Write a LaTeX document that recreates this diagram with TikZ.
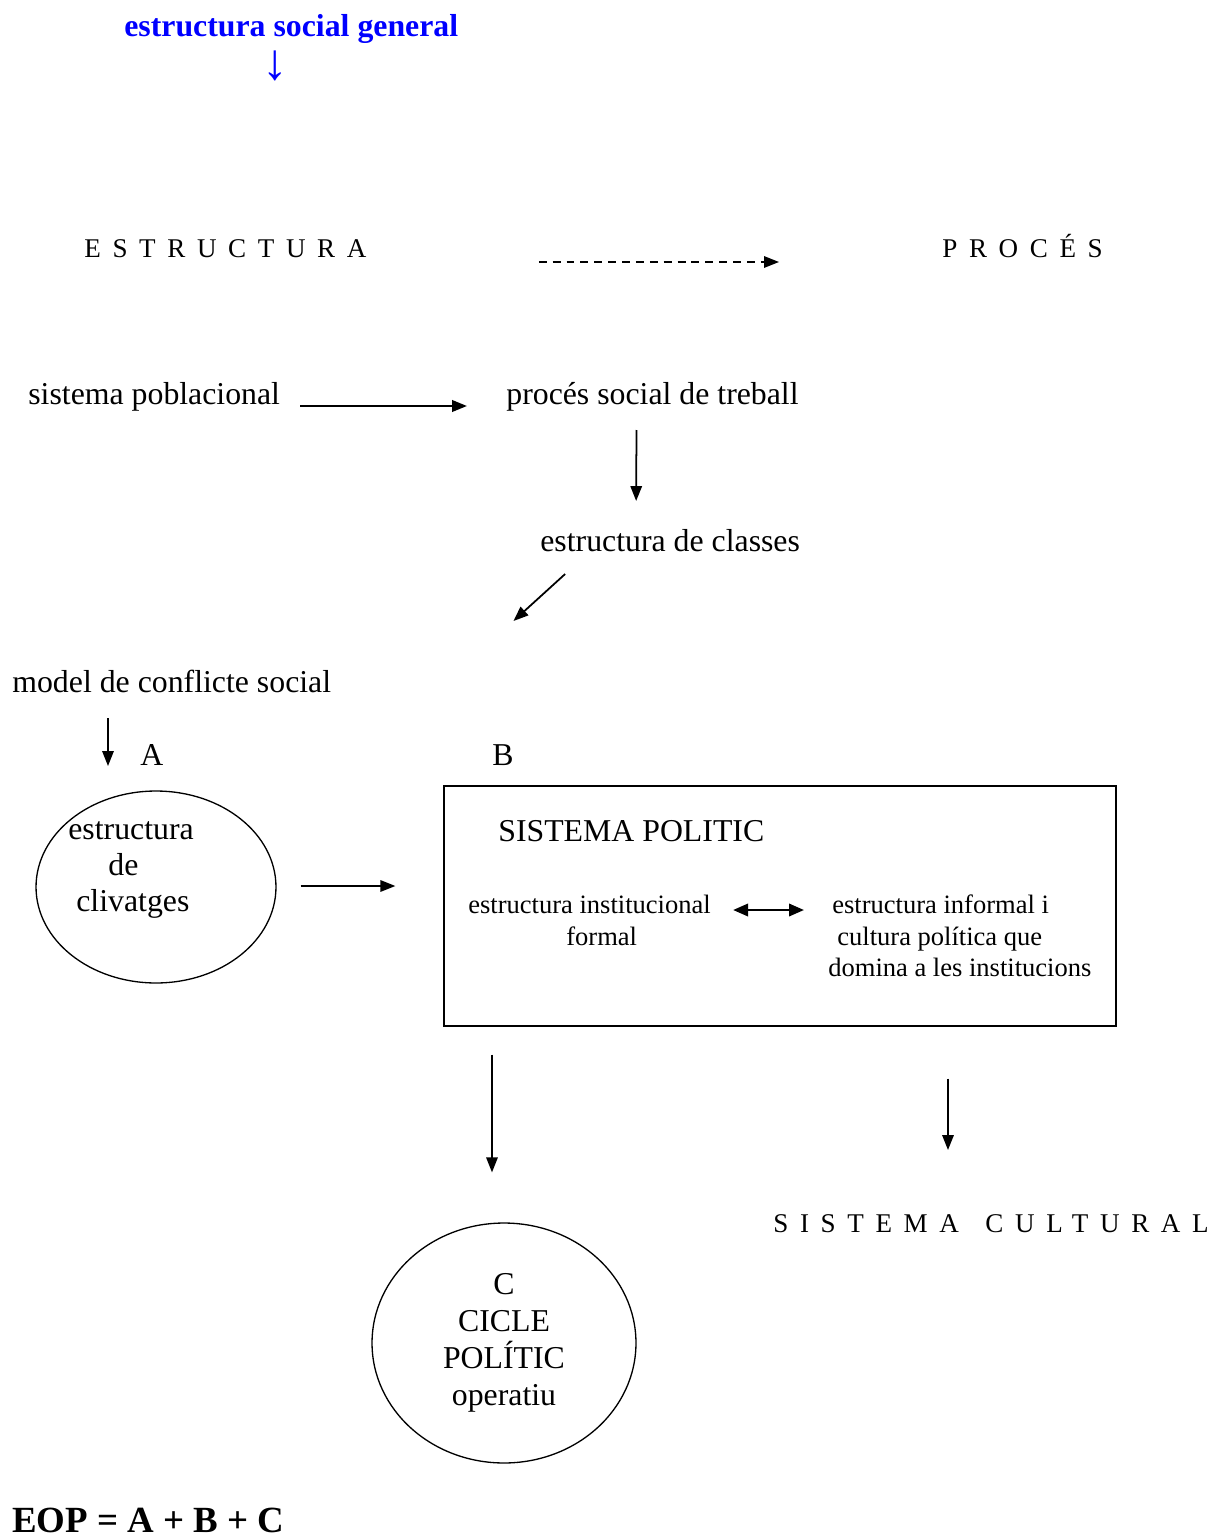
\documentclass[tikz,border=0pt]{standalone}
\usepackage{fontspec}
\setmainfont{Liberation Serif}
\newfontfamily\spacedfont[LetterSpace=43]{Liberation Serif}
\usetikzlibrary{arrows.meta, shapes.geometric}
\tikzstyle{txt} = [anchor=base west, inner sep=0pt, font=\fontsize{18.1}{21}\selectfont]
\tikzstyle{small} = [anchor=base west, inner sep=0pt, font=\fontsize{15.1}{18}\selectfont]
\tikzstyle{spaced} = [anchor=base west, inner sep=0pt, font=\spacedfont\fontsize{15.4}{18}\selectfont]
\tikzstyle{oval} = [ellipse, draw, line width=0.75pt]
\tikzstyle{reg} = [-{Triangle[length=8.5pt,width=6.5pt]}, line width=1pt]

\begin{document}
\begin{tikzpicture}[x=0.02cm, y=-0.02cm]
  \useasboundingbox (0,0) rectangle (1210,1537);

  % capçalera
  \node[txt, font=\bfseries\fontsize{18.1}{21}\selectfont, text=blue] (tit) at (124,37) {estructura social general};
  \node[txt, anchor=base, text=blue, font=\fontsize{29}{30}\selectfont] (fl) at (275,80) {↓};

  % estructura / procés
  \node[spaced] (estr) at (84,258) {ESTRUCTURA};
  \node[spaced] (proc) at (942,258) {PROCÉS};
  \draw[reg, dash pattern=on 4.5pt off 3.4pt] ([shift={(172,4)}]estr.base east) -- ([shift={(-163,4)}]proc.base west);

  % procés de treball
  \node[txt] (pob) at (28,404) {sistema poblacional};
  \node[txt] (treb) at (506,404) {procés social de treball};
  \draw[reg, line width=1.4pt] ([shift={(20,2)}]pob.base east) -- ([shift={(-39,2)}]treb.base west);

  \node[txt] (cls) at (540,551) {estructura de classes};
  \draw[reg] ([shift={(-16,26)}]treb.base) -- ([shift={(-34,-50)}]cls.base);

  \node[txt] (mdl) at (12,692) {model de conflicte social};
  \draw[reg] ([shift={(-105,23)}]cls.base) -- ([shift={(182,-71)}]mdl.base east);

  % A
  \node[txt] (lA) at (140,765) {A};
  \draw[reg] ([shift={(96,26)}]mdl.base west) -- ([shift={(-32,1)}]lA.base west);
  \node[oval, minimum width=4.8cm, minimum height=3.84cm] (clv) at (156,887) {};
  \node[txt] (c1) at (68,839) {estructura};
  \node[txt] (c2) at (108,875) {de};
  \node[txt] (c3) at (76,911) {clivatges};

  % B
  \node[txt] (lB) at (492,765) {B};
  \node[draw, line width=0.8pt, minimum width=13.44cm, minimum height=4.8cm, inner sep=0pt] (pol) at (780,906) {};
  \draw[reg] ([shift={(24,-1)}]clv.east) -- ([shift={(-48,-20)}]pol.west);
  \node[txt] (spol) at (498,841) {SISTEMA POLITIC};
  \node[small] (ins1) at (468,913) {estructura institucional};
  \node[small] (ins2) at (566,945) {formal};
  \node[small] (inf1) at (832,913) {estructura informal i};
  \node[small] (inf2) at (837,945) {cultura política que};
  \node[small] (inf3) at (828,976) {domina a les institucions};
  \draw[{Triangle[length=8.5pt,width=7pt]}-{Triangle[length=8.5pt,width=7pt]}, line width=1.4pt] ([shift={(22,-3)}]ins1.base east) -- ([shift={(-28,-3)}]inf1.base west);

  % C
  \node[oval, minimum width=5.28cm, minimum height=4.8cm, align=center, font=\fontsize{18.1}{21}\selectfont] (cic) at (504,1343) {C\\CICLE\\POLÍTIC\\operatiu};
  \draw[reg] ([shift={(-288,28)}]pol.south) -- ([shift={(-12,-50)}]cic.north);
  \node[spaced] (cult) at (773,1232) {SISTEMA\hspace{0.3em} CULTURAL};
  \draw[reg] ([shift={(168,52)}]pol.south) -- ([shift={(175,-82)}]cult.base west);

  % fórmula
  \node[txt, text depth=0pt, font=\bfseries\fontsize{21}{25}\selectfont] (eop) at (12,1532) {EOP = A + B + C};
\end{tikzpicture}
\end{document}
